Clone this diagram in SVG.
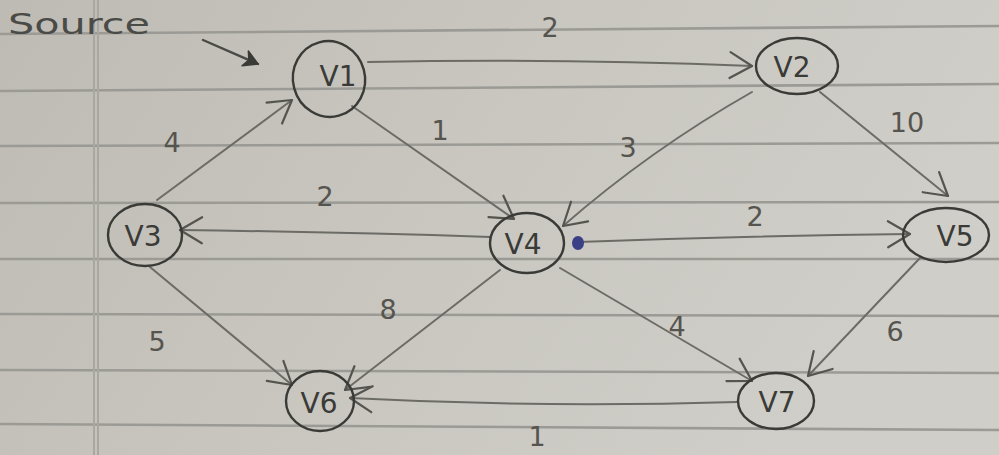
<svg xmlns="http://www.w3.org/2000/svg" width="999" height="455" viewBox="0 0 999 455">
  <defs>
    <linearGradient id="paper" x1="0" y1="0" x2="1" y2="0.3">
      <stop offset="0" stop-color="#bdbbb4"/>
      <stop offset="0.5" stop-color="#c8c6bf"/>
      <stop offset="1" stop-color="#d0cec8"/>
    </linearGradient>
    <marker id="head" markerUnits="userSpaceOnUse" markerWidth="40" markerHeight="40" refX="0" refY="0" viewBox="-30 -20 40 40" orient="auto" overflow="visible">
      <path d="M -22 -13 L 0 0 L -22 13" fill="none" stroke="#55544f" stroke-width="2.2" stroke-linecap="round" stroke-linejoin="round"/>
    </marker>
    <marker id="solid" markerUnits="userSpaceOnUse" markerWidth="30" markerHeight="30" refX="0" refY="0" viewBox="-20 -15 30 30" orient="auto" overflow="visible">
      <path d="M -14 -8 L 0 0 L -14 8 L -10 0 Z" fill="#3a3a37" stroke="#3a3a37" stroke-width="1.5" stroke-linejoin="round"/>
    </marker>
  </defs>
  <style>
    .rule { stroke: #9b9a95; stroke-width: 2.6; fill: none; }
    .margin { stroke: #a8a7a2; stroke-width: 2; fill: none; }
    .edge { stroke: #6c6b66; stroke-width: 2; fill: none; stroke-linecap: round; marker-end: url(#head); }
    .pointer { stroke: #4a4a46; stroke-width: 2.4; fill: none; stroke-linecap: round; marker-end: url(#solid); }
    .node { fill: none; stroke: #3a3a37; stroke-width: 2.4; }
    .nlabel { font-family: "DejaVu Sans", sans-serif; font-size: 28px; fill: #3a3a37; text-anchor: middle; }
    .wlabel { font-family: "DejaVu Sans", sans-serif; font-size: 27px; fill: #55544f; text-anchor: middle; }
    .note { font-family: "DejaVu Sans", sans-serif; font-size: 28px; fill: #4a4a46; }
  </style>

  <!-- ruled paper -->
  <rect x="0" y="0" width="999" height="455" fill="url(#paper)"/>
  <g id="paper-lines">
    <path class="rule" d="M 0 34 L 999 26"/>
    <path class="rule" d="M 0 91 L 999 84"/>
    <path class="rule" d="M 0 146 L 999 143"/>
    <path class="rule" d="M 0 203 L 999 202"/>
    <path class="rule" d="M 0 259 L 999 259"/>
    <path class="rule" d="M 0 314 L 999 316"/>
    <path class="rule" d="M 0 370 L 999 373"/>
    <path class="rule" d="M 0 424 L 999 430"/>
    <path class="margin" d="M 94 0 L 94 455"/>
    <path class="margin" d="M 98 0 L 98 455"/>
  </g>

  <!-- source pointer -->
  <g id="source">
    <text class="note" x="8" y="34" textLength="142" lengthAdjust="spacingAndGlyphs">Source</text>
    <path class="pointer" d="M 203 40 L 258 64"/>
  </g>

  <!-- weighted, directed edges -->
  <g id="connectors">
    <path class="edge" d="M 368 62 Q 560 58 752 66"/>
    <path class="edge" d="M 157 200 L 292 100"/>
    <path class="edge" d="M 352 106 L 514 219"/>
    <path class="edge" d="M 752 92 Q 650 150 563 226"/>
    <path class="edge" d="M 490 237 Q 340 232 180 230"/>
    <path class="edge" d="M 578 242 Q 740 236 910 234"/>
    <path class="edge" d="M 820 92 L 948 196"/>
    <path class="edge" d="M 150 267 L 292 385"/>
    <path class="edge" d="M 500 270 L 345 390"/>
    <path class="edge" d="M 560 268 L 752 381"/>
    <path class="edge" d="M 920 258 L 808 376"/>
    <path class="edge" d="M 737 402 Q 540 408 350 398"/>
    <!-- ink blot beside V4 -->
    <ellipse cx="578" cy="243" rx="6" ry="7" fill="#3b3f86"/>
  </g>

  <!-- edge weights -->
  <g id="weights">
    <text class="wlabel" x="550" y="37">2</text>
    <text class="wlabel" x="172" y="152">4</text>
    <text class="wlabel" x="440" y="140">1</text>
    <text class="wlabel" x="628" y="157">3</text>
    <text class="wlabel" x="907" y="132">10</text>
    <text class="wlabel" x="325" y="206">2</text>
    <text class="wlabel" x="755" y="226">2</text>
    <text class="wlabel" x="157" y="351">5</text>
    <text class="wlabel" x="388" y="319">8</text>
    <text class="wlabel" x="677" y="336">4</text>
    <text class="wlabel" x="895" y="341">6</text>
    <text class="wlabel" x="537" y="446">1</text>
  </g>

  <!-- vertices -->
  <g id="v1">
    <ellipse class="node" cx="329" cy="79" rx="36" ry="38" transform="rotate(-15 329 79)"/>
    <text class="nlabel" x="338" y="86">V1</text>
  </g>
  <g id="v2">
    <ellipse class="node" cx="797" cy="66" rx="41" ry="28"/>
    <text class="nlabel" x="792" y="77">V2</text>
  </g>
  <g id="v3">
    <ellipse class="node" cx="145" cy="235" rx="37" ry="31"/>
    <text class="nlabel" x="143" y="246">V3</text>
  </g>
  <g id="v4">
    <ellipse class="node" cx="527" cy="243" rx="37" ry="30"/>
    <text class="nlabel" x="523" y="254">V4</text>
  </g>
  <g id="v5">
    <ellipse class="node" cx="946" cy="235" rx="43" ry="27"/>
    <text class="nlabel" x="955" y="246">V5</text>
  </g>
  <g id="v6">
    <ellipse class="node" cx="320" cy="401" rx="34" ry="30"/>
    <text class="nlabel" x="319" y="413">V6</text>
  </g>
  <g id="v7">
    <ellipse class="node" cx="776" cy="401" rx="38" ry="28"/>
    <text class="nlabel" x="777" y="412">V7</text>
  </g>
</svg>
